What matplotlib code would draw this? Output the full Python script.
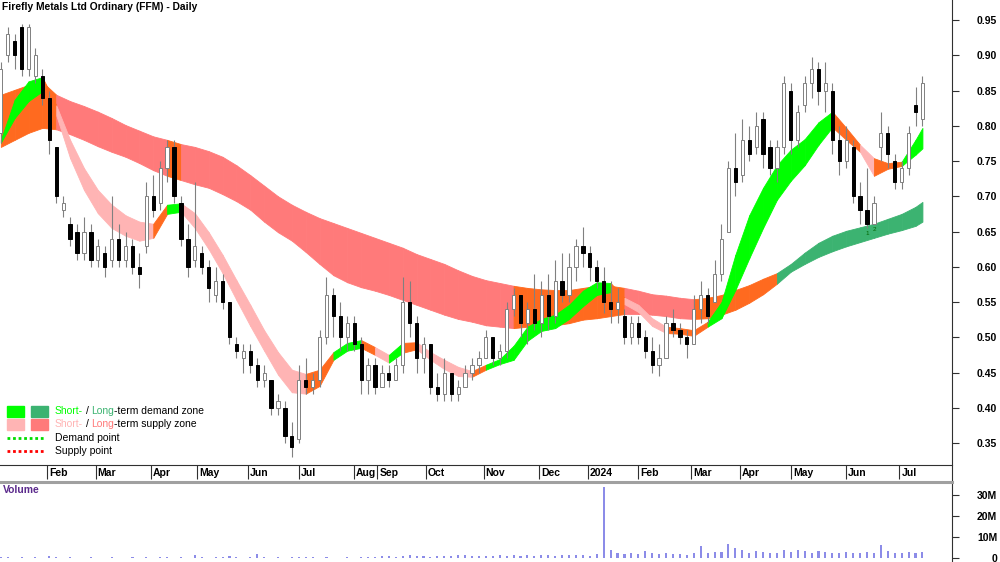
import numpy as np
import matplotlib
matplotlib.use("Agg")
import matplotlib.pyplot as plt
import matplotlib.transforms as mtransforms
from matplotlib.patches import Rectangle
from matplotlib.lines import Line2D

plt.rcParams['font.family'] = ['Liberation Sans', 'DejaVu Sans']

TITLE = "Firefly Metals Ltd Ordinary (FFM) - Daily"

# one candle per 3 sessions
open_ = [.79, .90, .92, .94, .88, .87, .87, .84, .77, .68, .66, .65, .62, .65, .61, .62, .61, .64, .61, .63,
         .60, .63, .70, .69, .74, .77, .69, .64, .61, .62, .60, .56, .58, .55, .49, .47, .48, .46, .44, .44,
         .40, .40, .36, .355, .44, .43, .44, .50, .56, .53, .50, .52, .49, .44, .46, .43, .45, .44, .46, .55,
         .52, .47, .49, .43, .42, .45, .42, .43, .45, .46, .47, .50, .47, .48, .54, .56, .52, .54, .52, .56,
         .53, .58, .56, .60, .63, .62, .60, .58, .55, .54, .53, .50, .52, .50, .48, .46, .47, .52, .51, .50,
         .49, .54, .56, .55, .59, .65, .74, .73, .78, .77, .81, .77, .74, .77, .85, .78, .83, .86, .88, .85,
         .85, .78, .75, .77, .70, .68, .66, .77, .79, .75, .72, .74, .83, .81]
high_ = [.89, .94, .93, .945, .945, .91, .88, .85, .77, .70, .67, .66, .67, .66, .64, .63, .70, .66, .65, .64,
         .62, .72, .73, .75, .78, .78, .70, .66, .72, .63, .61, .60, .59, .55, .50, .49, .49, .47, .46, .44,
         .42, .41, .38, .46, .47, .45, .51, .585, .57, .55, .53, .53, .50, .47, .47, .46, .46, .47, .585, .58,
         .53, .50, .49, .45, .47, .45, .44, .46, .47, .48, .51, .50, .49, .55, .57, .56, .55, .59, .58, .59,
         .61, .62, .62, .64, .657, .63, .61, .60, .58, .57, .54, .53, .53, .51, .50, .49, .53, .54, .52, .51,
         .56, .58, .57, .61, .66, .75, .79, .81, .80, .82, .82, .78, .78, .87, .86, .83, .87, .897, .89, .89,
         .86, .80, .80, .78, .72, .74, .70, .82, .80, .76, .75, .80, .855, .87]
low_ = [.775, .89, .88, .87, .87, .86, .83, .76, .69, .67, .63, .61, .61, .60, .60, .585, .60, .60, .60, .59,
        .57, .62, .67, .68, .72, .69, .63, .585, .60, .59, .55, .55, .54, .49, .47, .45, .45, .43, .43, .39,
        .39, .35, .33, .35, .42, .42, .43, .49, .50, .48, .48, .48, .42, .42, .42, .43, .43, .44, .45, .50,
        .45, .45, .42, .41, .41, .41, .41, .43, .44, .45, .47, .46, .46, .47, .53, .50, .49, .51, .50, .51,
        .52, .55, .55, .58, .60, .58, .57, .535, .52, .52, .49, .49, .49, .47, .45, .445, .47, .50, .49, .47,
        .49, .52, .52, .55, .58, .65, .70, .72, .75, .76, .74, .73, .72, .76, .76, .77, .82, .84, .83, .82,
        .76, .73, .74, .69, .66, .655, .66, .75, .74, .71, .71, .73, .80, .80]
close_ = [.88, .93, .90, .88, .94, .90, .84, .78, .70, .69, .64, .62, .65, .61, .63, .60, .64, .61, .63, .60,
          .59, .70, .68, .74, .77, .70, .64, .60, .63, .60, .57, .58, .55, .50, .48, .48, .46, .44, .45, .40,
          .41, .36, .345, .44, .43, .44, .50, .56, .53, .50, .52, .49, .44, .46, .43, .45, .44, .46, .55, .52,
          .47, .49, .43, .42, .45, .42, .43, .45, .46, .47, .50, .47, .48, .54, .56, .52, .54, .52, .56, .53,
          .58, .56, .60, .63, .62, .60, .58, .55, .54, .55, .50, .52, .50, .48, .46, .47, .52, .51, .50, .49,
          .54, .56, .53, .59, .64, .74, .72, .78, .76, .80, .76, .74, .77, .86, .78, .82, .86, .88, .85, .86,
          .78, .75, .78, .70, .68, .66, .69, .79, .76, .72, .74, .79, .82, .86]
volume_m = [0.4, 0.3, 0.2, 0.3, 0.2, 0.3, 0.2, 1.0, 0.3, 0.2, 0.3, 0.2, 0.2, 0.3, 0.2, 0.2, 0.3, 0.2, 0.2, 0.3,
            0.2, 0.3, 0.2, 0.3, 0.4, 0.2, 0.3, 0.2, 1.5, 0.3, 0.2, 0.4, 0.3, 0.9, 0.3, 0.2, 0.4, 2.0, 0.3, 0.2,
            0.3, 0.2, 0.4, 0.3, 0.5, 0.3, 0.2, 0.3, 0.2, 0.2, 0.3, 0.2, 0.3, 0.5, 0.6, 0.8, 1.0, 0.7, 0.9, 1.2,
            0.9, 0.8, 0.7, 1.1, 0.9, 1.0, 1.6, 1.2, 0.9, 1.1, 1.0, 0.8, 1.2, 1.0, 1.4, 1.1, 1.3, 0.9, 1.2, 1.5,
            1.1, 1.4, 1.6, 1.3, 1.2, 1.0, 1.8, 34.0, 4.0, 2.6, 2.0, 2.4, 1.8, 3.5, 2.2, 1.9, 2.4, 1.7, 2.0, 1.6,
            2.2, 5.5, 2.4, 3.0, 2.8, 6.5, 4.6, 3.8, 2.6, 3.4, 2.7, 2.2, 2.5, 3.6, 2.9, 4.0, 3.1, 2.6, 3.3, 2.8,
            2.6, 2.2, 3.0, 2.5, 2.2, 2.9, 2.4, 6.0, 3.2, 2.4, 2.6, 2.8, 2.3, 3.0]

# zone edges, one point per 6 sessions (last point = last session)
long_up = [.844, .851, .858, .862, .844, .835, .828, .820, .811, .801, .793, .785, .780, .774, .770, .764, .756,
           .744, .730, .715, .700, .688, .678, .669, .662, .655, .648, .641, .634, .627, .618, .611, .604, .595,
           .587, .581, .577, .573, .570, .568, .567, .567, .570, .573, .573, .570, .566, .561, .559, .556, .554,
           .556, .560, .567, .574, .583, .591, .604, .620, .634, .644, .651, .656, .661, .668, .675, .685, .692]
long_lo = [.770, .780, .790, .797, .795, .788, .780, .771, .763, .756, .747, .737, .729, .723, .717, .712, .703,
           .693, .681, .664, .649, .637, .621, .604, .588, .578, .571, .566, .560, .553, .546, .539, .532, .526,
           .522, .517, .515, .513, .515, .516, .517, .520, .525, .527, .530, .533, .533, .532, .530, .527, .526,
           .527, .532, .539, .549, .561, .576, .593, .604, .614, .622, .629, .635, .641, .647, .652, .658, .664]
short_up = [.780, .837, .863, .869, .829, .780, .740, .709, .688, .673, .664, .661, .688, .690, .676, .649, .617,
            .581, .546, .510, .479, .454, .448, .454, .479, .492, .496, .486, .475, .492, .493, .479, .468, .458,
            .452, .461, .469, .488, .515, .526, .532, .546, .566, .578, .577, .556, .546, .527, .515, .513, .510,
            .522, .550, .617, .673, .712, .744, .766, .781, .805, .820, .797, .773, .754, .747, .749, .780, .797]
short_lo = [.776, .811, .835, .849, .815, .754, .709, .676, .655, .644, .637, .641, .675, .678, .655, .625, .591,
            .553, .516, .481, .447, .422, .420, .431, .468, .481, .485, .475, .464, .478, .483, .468, .455, .445,
            .444, .454, .462, .468, .495, .509, .513, .526, .544, .560, .564, .547, .536, .516, .506, .505, .502,
            .515, .527, .567, .612, .655, .695, .722, .744, .773, .798, .780, .763, .729, .739, .743, .759, .768]
# zone colour per segment: g/G demand (short/long), p/r supply (short/long), o overlap
long_codes = "oooo" "rrrrrrrr" "o" "rrrrrrrrrrrrrrrrrrrrrrrr" "oooooooo" "rrrrr" "oooooo" "GGGGGGGGGGG"
short_codes = ("gggo" "ppppppp" "o" "g" "ppppppppp" "oo" "gg" "o" "p" "g" "o" "pppp" "o"
               "ggggggggg" "o" "ppp" "ooo" "ggggggggg" "oo" "p" "oo" "gg")

month_pos = [21, 42, 66, 86, 108, 130, 154, 164, 185, 210, 234, 255, 277, 300, 321, 343, 367, 390]
month_lab = ["Feb", "Mar", "Apr", "May", "Jun", "Jul", "Aug", "Sep", "Oct", "Nov", "Dec", "2024",
             "Feb", "Mar", "Apr", "May", "Jun", "Jul"]
price_ticks = [0.35, 0.40, 0.45, 0.50, 0.55, 0.60, 0.65, 0.70, 0.75, 0.80, 0.85, 0.90, 0.95]
vol_ticks = [0, 10, 20, 30]
vol_lab = ["0", "10M", "20M", "30M"]

COL = {"g": "#00ff00", "G": "#3cb371", "p": "#ffb4b4", "r": "#ff7a7a", "o": "#ff6a1f"}

W, H = 1000, 562
fig = plt.figure(figsize=(W / 100, H / 100), dpi=100)
ax = fig.add_axes([0, 1 - 465 / H, 952 / W, 465 / H])
axv = fig.add_axes([0, 0, 952 / W, 79 / H])

bar_x = 1 + 3 * np.arange(len(close_))
band_x = np.r_[1 + 6 * np.arange(len(long_up) - 1), 400]


def draw_band(up, lo, codes, z):
    for k, c in enumerate(codes):
        ax.fill_between(band_x[k:k + 2], up[k:k + 2], lo[k:k + 2], color=COL[c], lw=0.6, zorder=z)


draw_band(long_up, long_lo, long_codes, 1)
draw_band(short_up, short_lo, short_codes, 2)

o, h, l, c = map(np.array, (open_, high_, low_, close_))
up = c >= o
ax.vlines(bar_x, l, h, color="#808080", lw=0.8, zorder=3)
ax.bar(bar_x[up], c[up] - o[up], bottom=o[up], width=1.4, color="white", edgecolor="#808080", lw=0.7, zorder=4)
ax.bar(bar_x[~up], o[~up] - c[~up], bottom=c[~up], width=1.4, color="black", edgecolor="black", lw=0.7, zorder=4)
for i, s in [(125, "1"), (126, "2")]:
    ax.text(bar_x[i], low_[i] - 0.004, s, color="#006400", fontsize=4.5, ha="center", va="top", zorder=5)

ax.set_xlim(0.65, 412.8)
ax.set_ylim(0.3188, 0.9784)
for sp in ("top", "left", "right"):
    ax.spines[sp].set_visible(False)
ax.spines["bottom"].set_color("#303030")
ax.spines["bottom"].set_linewidth(0.8)
ax.yaxis.tick_right()
ax.set_yticks(price_ticks, [f"{v:.2f}" for v in price_ticks], fontweight="bold")
ax.tick_params(axis="y", direction="out", length=5, width=0.8, pad=27.5, labelsize=7.5, color="#303030")
for t in ax.get_yticklabels():
    t.set_ha("right")
ax.set_xticks(month_pos)
ax.set_xticklabels([])
ax.tick_params(axis="x", direction="out", length=10, width=0.8, color="#303030")
trans = mtransforms.offset_copy(ax.get_xaxis_transform(), fig=fig, x=2, y=-3, units="dots")
for p, lab in zip(month_pos, month_lab):
    ax.text(p, 0, lab, transform=trans, ha="left", va="top", fontsize=7.5, fontweight="bold")

axv.bar(bar_x, volume_m, width=0.9, color="#8c8ce8", lw=0)
axv.set_xlim(0.65, 412.8)
axv.set_ylim(-1.9, 35.7)
for sp in axv.spines.values():
    sp.set_visible(False)
axv.set_xticks([])
axv.yaxis.tick_right()
axv.set_yticks(vol_ticks, vol_lab, fontweight="bold")
axv.tick_params(axis="y", direction="out", length=5, width=0.8, pad=27.5, labelsize=7.5, color="#303030")
for t in axv.get_yticklabels():
    t.set_ha("right")
axv.text(0.003, 1, "Volume", transform=mtransforms.offset_copy(axv.transAxes, fig=fig, x=0, y=-2, units="dots"),
         ha="left", va="top", color="#5b2a8c", fontsize=7.5, fontweight="bold")

# frame lines
fig.add_artist(Line2D([952 / W, 952 / W], [0, 1], color="#303030", lw=0.8))
fig.add_artist(Line2D([0, 952 / W], [1 - 482 / H] * 2, color="#a0a0a0", lw=2.2))

fig.text(2 / W, 1 - 7 / H, TITLE, ha="left", va="center", fontsize=7.4, fontweight="bold")

# legend
renderer = fig.canvas.get_renderer()


def px(x, y):
    return x / W, 1 - y / H


def rich(x, y, parts):
    for s, col, gap in parts:
        t = fig.text(*px(x, y), s, color=col, fontsize=7.5, ha="left", va="center")
        x += t.get_window_extent(renderer).width + gap


for (ya, ca, cb) in [(411, COL["g"], COL["G"]), (424, COL["p"], COL["r"])]:
    fig.add_artist(Rectangle(px(7, ya + 5.5), 17 / W, 11 / H, color=ca, transform=fig.transFigure))
    fig.add_artist(Rectangle(px(31, ya + 5.5), 17 / W, 11 / H, color=cb, transform=fig.transFigure))
rich(55, 411, [("Short-", COL["g"], 2.5), ("/", "black", 2.5), ("Long", COL["G"], 0),
               ("-term demand zone", "black", 0)])
rich(55, 424, [("Short-", COL["p"], 2.5), ("/", "black", 2.5), ("Long", COL["r"], 0),
               ("-term supply zone", "black", 0)])
fig.add_artist(Line2D([7 / W, 45 / W], [1 - 438 / H] * 2, color="#00dd00", lw=2, ls=(0, (1, 1))))
fig.add_artist(Line2D([7 / W, 45 / W], [1 - 451 / H] * 2, color="#ff0000", lw=2, ls=(0, (1, 1))))
fig.text(*px(55, 438), "Demand point", fontsize=7.5, ha="left", va="center")
fig.text(*px(55, 451), "Supply point", fontsize=7.5, ha="left", va="center")

fig.savefig("out.png", dpi=100)
